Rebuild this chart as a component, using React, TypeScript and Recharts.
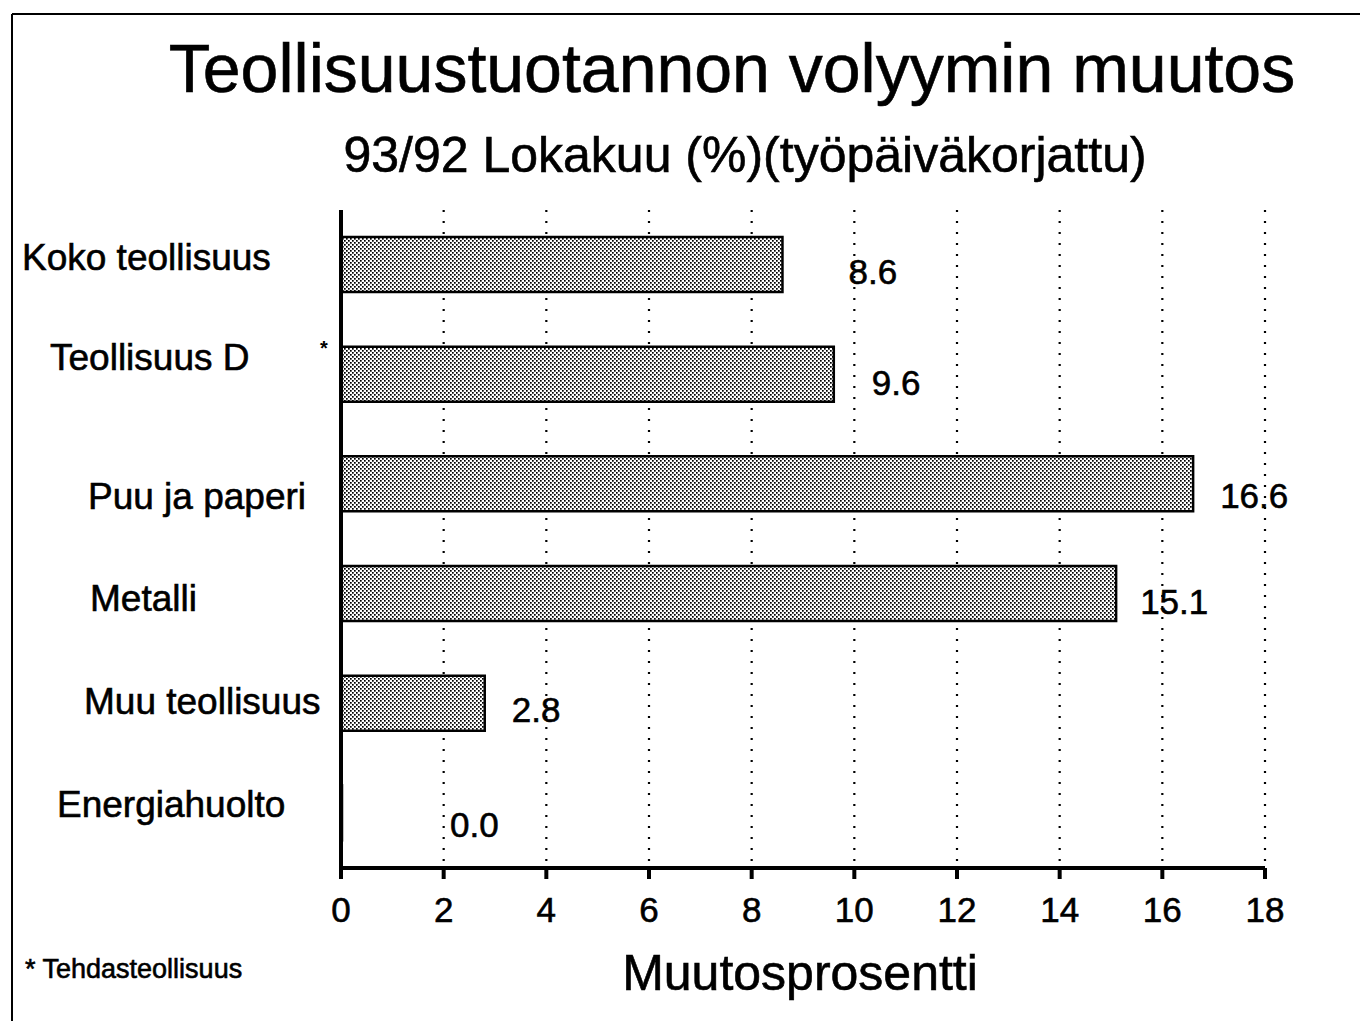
import React from 'react';
import { BarChart, Bar, XAxis, YAxis, CartesianGrid, LabelList } from 'recharts';

const categories = ['Koko teollisuus', 'Teollisuus D', 'Puu ja paperi', 'Metalli', 'Muu teollisuus', 'Energiahuolto'];
const changes = [8.6, 9.6, 16.6, 15.1, 2.8, 0.0];
const footnoteMarks = ['', '*', '', '', '', ''];
const xTicks = [0, 2, 4, 6, 8, 10, 12, 14, 16, 18];

const titleText = 'Teollisuustuotannon volyymin muutos';
const subtitleText = '93/92 Lokakuu (%)(työpäiväkorjattu)';
const axisTitle = 'Muutosprosentti';
const footnoteText = '* Tehdasteollisuus';

// hand-placed label nudges of the original (style, not data)
const catLabelDx = [-319, -291, -253, -251, -257, -284];
const catLabelDy = [-8, -17, 12, 4, -2, -9];
const valueLabelDx = [66, 38, 27, 24, 27, 108];
const valueLabelDy = [7, 9, 12, 8, 7, 12];

const data = categories.map((name, i) => ({ name, value: changes[i], mark: footnoteMarks[i] }));

const FONT = '"Liberation Sans", Arial, Helvetica, sans-serif';
const HEAVY = { stroke: '#000', strokeWidth: 0.6 };

const CategoryTick = (props: any) => {
  const { x, y, payload, index } = props;
  const i = typeof index === 'number' ? index : categories.indexOf(payload.value);
  return (
    <g>
      <text
        x={x + catLabelDx[i]}
        y={y + catLabelDy[i]}
        dy="0.35em"
        textAnchor="start"
        fontFamily={FONT}
        fontSize={37}
        fill="#000"
        {...HEAVY}
      >
        {payload.value}
      </text>
      {footnoteMarks[i] ? (
        <text x={x - 21} y={y - 20} textAnchor="start" fontFamily={FONT} fontSize={20} fontWeight="bold" fill="#000">
          {footnoteMarks[i]}
        </text>
      ) : null}
    </g>
  );
};

const NumberTick = (props: any) => {
  const { x, y, payload } = props;
  return (
    <text x={x} y={y + 43} textAnchor="middle" fontFamily={FONT} fontSize={35} fill="#000" {...HEAVY}>
      {payload.value}
    </text>
  );
};

const ValueLabel = (props: any) => {
  const { x, y, width, height, value, index } = props;
  return (
    <text
      x={x + width + valueLabelDx[index]}
      y={y + height / 2 + valueLabelDy[index]}
      dy="0.35em"
      textAnchor="start"
      fontFamily={FONT}
      fontSize={35}
      fill="#000"
      {...HEAVY}
    >
      {Number(value).toFixed(1)}
    </text>
  );
};

export default function App() {
  return (
    <div style={{ position: 'absolute', left: 0, top: 0, width: 1360, height: 1021, background: '#fff', overflow: 'hidden' }}>
      <svg width={0} height={0} style={{ position: 'absolute' }}>
        <defs>
          <pattern id="stipple" width={4} height={4} patternUnits="userSpaceOnUse">
            <rect width={4} height={4} fill="#fff" />
            <rect x={0} y={0} width={1.7} height={1.7} fill="#000" />
            <rect x={2} y={2} width={1.7} height={1.7} fill="#000" />
          </pattern>
        </defs>
      </svg>
      <BarChart
        width={1360}
        height={1021}
        data={data}
        layout="vertical"
        margin={{ top: 210, right: 95, bottom: 123, left: 0 }}
        barCategoryGap={0}
      >
        <CartesianGrid horizontal={false} vertical stroke="#000" strokeWidth={2.2} strokeDasharray="2 9" />
        <XAxis
          type="number"
          domain={[0, 18]}
          ticks={xTicks}
          interval={0}
          allowDataOverflow
          height={30}
          axisLine={{ stroke: '#000', strokeWidth: 4 }}
          tickLine={{ stroke: '#000', strokeWidth: 4 }}
          tickSize={11}
          tickMargin={0}
          tick={<NumberTick />}
        />
        <YAxis
          type="category"
          dataKey="name"
          width={341}
          axisLine={{ stroke: '#000', strokeWidth: 4 }}
          tickLine={false}
          tickSize={0}
          tickMargin={0}
          interval={0}
          tick={<CategoryTick />}
        />
        <Bar
          dataKey="value"
          barSize={55}
          minPointSize={1}
          fill="url(#stipple)"
          stroke="#000"
          strokeWidth={2.5}
          isAnimationActive={false}
        >
          <LabelList dataKey="value" content={<ValueLabel />} />
        </Bar>
      </BarChart>
      <svg width={1360} height={1021} style={{ position: 'absolute', left: 0, top: 0, pointerEvents: 'none' }}>
        <line x1={12} y1={14} x2={1360} y2={14} stroke="#000" strokeWidth={2} />
        <line x1={12} y1={14} x2={12} y2={1021} stroke="#000" strokeWidth={2} />
        <text x={732} y={92} textAnchor="middle" fontFamily={FONT} fontSize={68} fill="#000" {...HEAVY}>
          {titleText}
        </text>
        <text x={745} y={172} textAnchor="middle" fontFamily={FONT} fontSize={50} fill="#000" {...HEAVY}>
          {subtitleText}
        </text>
        <text x={800} y={990} textAnchor="middle" fontFamily={FONT} fontSize={50} fill="#000" {...HEAVY}>
          {axisTitle}
        </text>
        <text x={25} y={978} textAnchor="start" fontFamily={FONT} fontSize={27} fill="#000" {...HEAVY}>
          {footnoteText}
        </text>
      </svg>
    </div>
  );
}
